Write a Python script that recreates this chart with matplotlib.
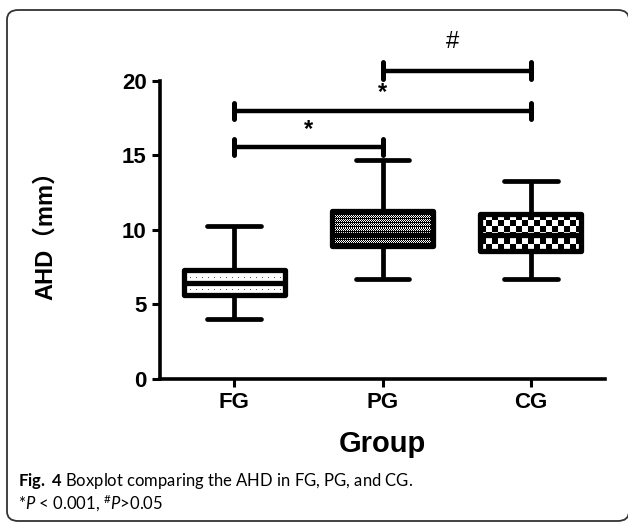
import numpy as np
import matplotlib
matplotlib.use("Agg")
import matplotlib.pyplot as plt
from matplotlib.patches import FancyBboxPatch

groups = ["FG", "PG", "CG"]
whislo = [4.05, 6.7, 6.7]
q1 = [5.65, 8.95, 8.6]
med = [6.45, 9.65, 9.65]
q3 = [7.3, 11.3, 11.05]
whishi = [10.3, 14.7, 13.3]

# significance brackets: (from group, to group, height, label)
sig_pairs = [(0, 1, 15.55, "*"), (0, 2, 18.0, "*"), (1, 2, 20.7, "#")]

plt.rcParams["mathtext.fontset"] = "custom"
plt.rcParams["mathtext.rm"] = "Lato"
plt.rcParams["mathtext.it"] = "Lato:italic"
plt.rcParams["mathtext.bf"] = "Lato:bold"

fig = plt.figure(figsize=(6.28, 5.30), dpi=100)
ax = fig.add_axes([0.2548, 0.2849, 0.7086, 0.5623])

# rounded frame around the whole figure
frame = FancyBboxPatch((7 / 628, 9 / 530), 622 / 628, 511 / 530,
                       boxstyle="round,pad=0,rounding_size=0.018",
                       transform=fig.transFigure, fill=False,
                       edgecolor="#333333", linewidth=1.3, clip_on=False)
fig.patches.append(frame)

pos = [1, 2, 3]
stats = []
for i, g in enumerate(groups):
    stats.append(dict(label=g, whislo=whislo[i], q1=q1[i], med=med[i],
                      q3=q3[i], whishi=whishi[i], fliers=[]))

lw = 3.8
bp = ax.bxp(stats, positions=pos, widths=0.68, patch_artist=True,
            showfliers=False, capwidths=0.36,
            boxprops=dict(facecolor="none", edgecolor="black", linewidth=lw,
                          joinstyle="round", zorder=3),
            medianprops=dict(color="black", linewidth=lw, solid_capstyle="butt", zorder=4),
            whiskerprops=dict(color="black", linewidth=lw * 0.9, solid_capstyle="butt"),
            capprops=dict(color="black", linewidth=lw * 0.9, solid_capstyle="round"))

ax.set_xlim(0.5, 3.5)
ax.set_ylim(0, 20)

# fill patterns (pixel images clipped to each box)
fig.canvas.draw()
for i, box in enumerate(bp["boxes"]):
    x0, x1 = pos[i] - 0.34, pos[i] + 0.34
    p0 = ax.transData.transform((x0, q1[i]))
    p1 = ax.transData.transform((x1, q3[i]))
    w = int(round(p1[0] - p0[0]))
    h = int(round(p1[1] - p0[1]))
    yy, xx = np.mgrid[0:h, 0:w]
    if i == 0:
        img = np.ones((h, w))
        pm = ax.transData.transform((pos[i], med[i]))[1] - p0[1]
        for rowc in [pm / 2, pm + (h - pm) / 2]:
            r = int(round(h - rowc))
            img[r, ::6] = 0.35
    elif i == 1:
        img = np.where(((xx + yy) % 2 == 0) & (yy % 4 != 0), 1.0, 0.0)
    else:
        img = np.where(((yy // 6) + (xx // 6)) % 2 == 0, 0.0, 1.0)
    im = ax.imshow(img, cmap="gray", vmin=0, vmax=1, extent=(x0, x1, q1[i], q3[i]),
                   aspect="auto", interpolation="nearest", zorder=2.5)
    im.set_clip_path(box)

ax.set_xlim(0.5, 3.5)
ax.set_ylim(0, 20)

for a, b, yv, lab in sig_pairs:
    ax.plot([pos[a], pos[b]], [yv, yv], color="black", lw=3.2, clip_on=False,
            solid_capstyle="butt")
    for xv in (pos[a], pos[b]):
        ax.plot([xv, xv], [yv - 0.55, yv + 0.55], color="black", lw=3.6,
                clip_on=False, solid_capstyle="round")
    if lab == "*":
        ax.text((pos[a] + pos[b]) / 2, yv + 0.45, lab, ha="center", va="bottom",
                fontsize=17, fontweight="bold", family="Liberation Sans")
    else:
        ax.text((pos[a] + pos[b]) / 2 - 0.03, yv + 1.2, lab, ha="center", va="bottom",
                fontsize=17, family="Liberation Sans")

for s in ["top", "right"]:
    ax.spines[s].set_visible(False)
for s in ["left", "bottom"]:
    ax.spines[s].set_linewidth(2.6)
ax.set_yticks([0, 5, 10, 15, 20])
ax.tick_params(width=2.2, length=6)
ax.set_xticks(pos)
ax.set_xticklabels(groups)
for t in ax.get_xticklabels() + ax.get_yticklabels():
    t.set_fontsize(16)
    t.set_fontweight("bold")
    t.set_family("Liberation Sans")
ax.set_xlabel("Group", fontsize=21, fontweight="bold", family="Liberation Sans", labelpad=12)
ax.set_ylabel("AHD（mm）", fontsize=17, fontweight="bold",
              family=["Liberation Sans", "Noto Sans CJK SC"], labelpad=47)

fig.text(18 / 628, 1 - 486 / 530, r"$\mathbf{Fig.\ 4}$ Boxplot comparing the AHD in FG, PG, and CG.",
         fontsize=12, family="Lato", ha="left", va="baseline")
fig.text(18 / 628, 1 - 510 / 530, r"*$P$ < 0.001, ${}^{\#}P$>0.05",
         fontsize=12, family="Lato", ha="left", va="baseline")

fig.savefig("out.png", dpi=100)
